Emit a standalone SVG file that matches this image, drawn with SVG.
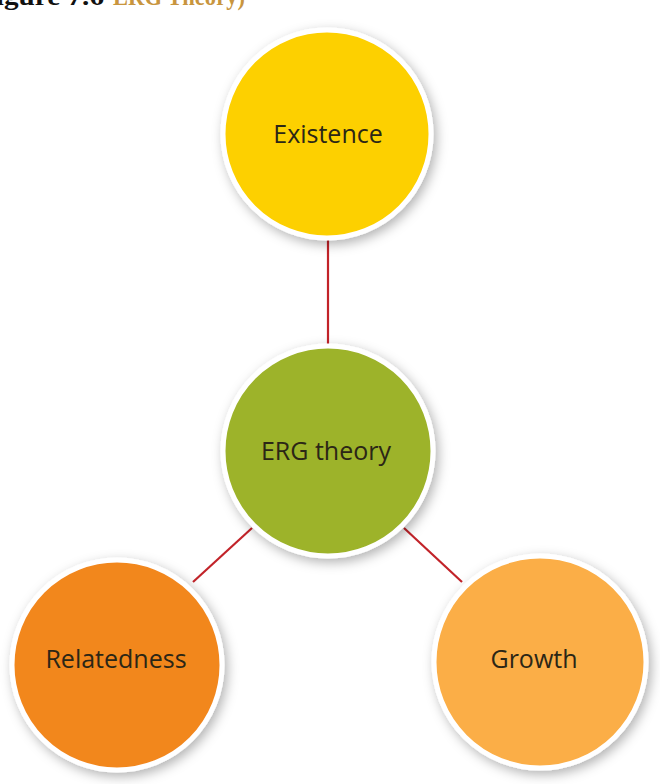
<svg xmlns="http://www.w3.org/2000/svg" width="660" height="784" viewBox="0 0 660 784">
<style>
.ring{stroke:#ffffff;stroke-width:5;filter:url(#sh)}
.lbl{font-family:"Open Sans","Liberation Sans",sans-serif;font-size:25px;fill:#2b2616;text-anchor:middle;dominant-baseline:central}
.conn{stroke:#c22329;stroke-width:2.2;fill:none}
.cap{font-family:"Liberation Serif",serif;font-size:25px;font-weight:bold}
</style>
<defs>
<filter id="sh" x="-20%" y="-20%" width="150%" height="150%">
<feDropShadow dx="3" dy="4" stdDeviation="6" flood-color="#000" flood-opacity="0.3"/>
</filter>
</defs>
<rect width="660" height="784" fill="#ffffff"/>
<text class="cap" x="-22" y="5" fill="#111" textLength="126" lengthAdjust="spacingAndGlyphs">Figure 7.6</text>
<text class="cap" x="113" y="5" fill="#c8953e" textLength="132" lengthAdjust="spacingAndGlyphs">ERG Theory)</text>
<g id="connectors">
<line class="conn" x1="328" y1="236" x2="328" y2="346"/>
<line class="conn" x1="252" y1="528" x2="193" y2="582"/>
<line class="conn" x1="404" y1="528" x2="462" y2="582"/>
</g>
<g id="existence">
<circle class="ring" cx="327" cy="134" r="104" fill="#fdd000"/>
<text class="lbl" x="328" y="133">Existence</text>
</g>
<g id="erg">
<circle class="ring" cx="328" cy="451" r="105" fill="#9db32a"/>
<text class="lbl" x="326" y="450">ERG theory</text>
</g>
<g id="relatedness">
<circle class="ring" cx="117" cy="665" r="105" fill="#f2871f"/>
<text class="lbl" x="116" y="658">Relatedness</text>
</g>
<g id="growth">
<circle class="ring" cx="540" cy="662" r="106" fill="#fbae46"/>
<text class="lbl" x="534" y="658">Growth</text>
</g>
</svg>
